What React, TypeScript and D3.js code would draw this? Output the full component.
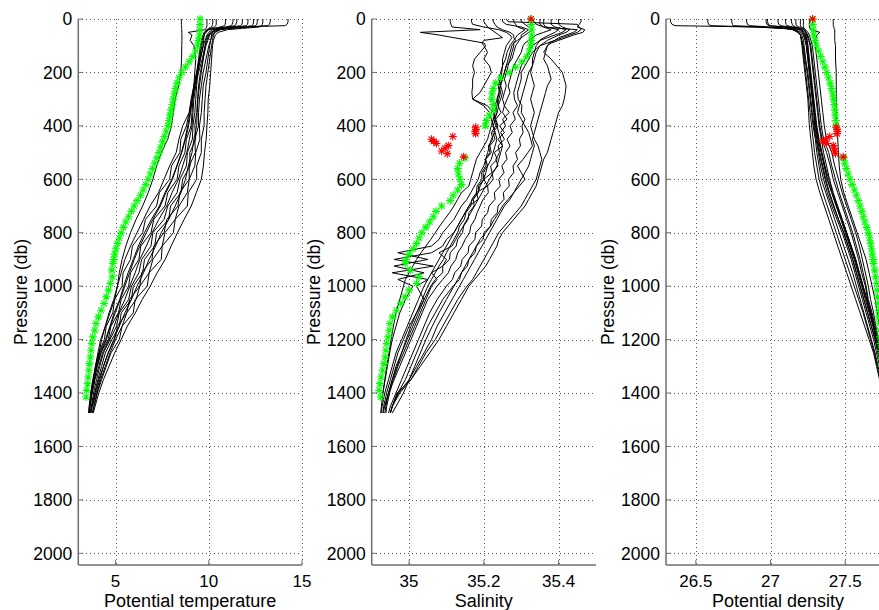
import React from 'react';
import * as d3 from 'd3';

// ---------- pressure grids ----------
const P_BLACK = [0,10,20,25,30,35,40,50,60,80,100,150,200,250,300,350,400,450,500,550,600,650,700,750,800,850,900,950,1000,1050,1100,1150,1200,1250,1300,1350,1400,1450,1475];
const P_SAL = [0,10,20,30,40,50,60,70,80,90,100,125,150,175,200,225,250,275,300,325,350,375,400,425,450,475,500,525,550,575,600,625,650,675,700,725,750,775,800,825,850,875,900,925,950,975,1000,1050,1100,1150,1200,1250,1300,1350,1400,1450,1475];
const P_GREEN = [0,20,40,60,80,100,120,140,160,180,200,220,240,260,280,300,320,340,360,380,400,420,440,460,480,500,520,540,560,580,600,620,640,660,680,700,720,740,760,780,800,820,840,860,880,900,915,940,965,990,1015,1040,1065,1090,1115,1140,1165,1190,1215,1240,1265,1290,1315,1340,1365,1390,1415];
const P_RED = [0,405,413,421,429,440,450,458,466,474,484,494,504,516];

// ---------- potential temperature (black profiles) ----------
const T_A = [8.52,8.53,8.53,8.54,8.54,8.55,8.55,8.55,8.56,8.56,8.55,8.54,8.5,8.38,8.2,8.1,8.0,7.8,7.45,7.2,7.0,6.75,6.45,6.1,5.8,5.55,5.35,5.2,5.1,4.95,4.7,4.45,4.2,4.05,3.92,3.82,3.72,3.64,3.6];
const T_B = [14.25,14.25,14.2,14.1,11.5,10.6,10.3,10.2,10.15,10.1,10.05,9.95,9.85,9.7,9.65,9.6,9.5,9.52,9.3,9.25,8.95,8.85,8.4,8.2,7.65,7.5,7.0,6.8,6.3,6.1,5.6,5.35,5.0,4.7,4.45,4.2,4.0,3.82,3.75];
const T_C = [12.9,12.9,12.88,12.85,12.7,11.8,11.0,10.5,10.35,10.25,10.2,10.15,10.1,10.05,9.97,9.95,9.9,9.86,9.77,9.71,9.6,9.33,9.06,8.68,8.32,7.98,7.66,7.23,6.86,6.43,6.06,5.63,5.3,4.95,4.65,4.35,4.1,3.9,3.8];
const T_D = [12.6,12.6,12.58,12.5,12.1,11.2,10.6,10.3,10.2,10.1,10.0,9.85,9.7,9.6,9.5,9.45,9.45,9.25,9.28,8.95,8.95,8.45,8.35,7.75,7.6,7.05,6.95,6.4,6.3,5.75,5.6,5.1,4.95,4.6,4.35,4.15,3.95,3.75,3.68];
const T_E = [12.4,12.4,12.38,12.3,11.9,11.0,10.5,10.2,10.05,9.95,9.85,9.7,9.55,9.45,9.4,9.35,9.25,9.3,8.98,9.0,8.6,8.5,7.95,7.85,7.2,7.1,6.55,6.45,5.95,5.85,5.3,5.2,4.8,4.45,4.25,4.05,3.88,3.72,3.65];
const T_F = [12.1,12.1,12.08,12.0,11.5,10.8,10.4,10.1,9.95,9.85,9.8,9.65,9.45,9.3,9.2,9.15,9.1,8.96,8.82,8.6,8.37,8.03,7.74,7.32,6.96,6.65,6.3,6.05,5.76,5.5,5.17,4.92,4.65,4.3,4.1,3.9,3.75,3.62,null];
const T_G = [11.5,11.5,11.45,11.4,11.0,10.5,10.2,10.0,9.9,9.8,9.7,9.55,9.4,9.25,9.15,9.1,9.05,8.8,8.72,8.4,8.3,7.8,7.65,7.05,6.9,6.35,6.25,5.8,5.7,5.3,5.15,4.75,4.6,4.2,4.0,3.85,3.7,3.6,3.56];
const T_H = [11.3,11.3,11.25,11.2,10.9,10.4,10.0,9.8,9.7,9.6,9.55,9.45,9.35,9.2,9.1,9.0,8.87,8.72,8.53,8.28,8.02,7.65,7.35,6.92,6.55,6.22,5.95,5.67,5.44,5.22,4.92,4.7,4.46,4.15,3.95,3.8,3.68,null,null];
const T_I = [10.4,10.4,10.4,10.38,10.3,10.1,9.9,9.75,9.7,9.65,9.6,9.5,9.35,9.2,9.05,8.95,8.8,8.5,8.45,8.0,7.9,7.35,7.2,6.6,6.45,5.9,5.8,5.4,5.35,4.95,4.85,4.5,4.4,4.1,3.92,3.78,3.66,3.58,3.55];
const T_J = [10.2,10.22,10.2,10.18,10.15,10.05,9.9,9.8,9.75,9.72,9.7,9.55,9.4,9.35,9.3,9.25,9.15,9.12,8.85,8.8,8.45,8.3,7.8,7.6,7.0,6.9,6.4,6.25,5.85,5.7,5.2,5.05,4.7,4.35,4.15,3.98,3.82,3.7,3.64];
const T_K = [13.3,13.3,13.25,13.2,12.0,11.0,10.6,10.35,10.25,10.2,10.15,10.05,9.95,9.85,9.8,9.75,9.75,9.6,9.6,9.35,9.35,8.9,8.85,8.2,8.1,7.5,7.45,6.8,6.7,6.05,5.95,5.35,5.2,4.75,4.5,4.25,4.02,3.85,3.78];
const T_L = [9.9,9.9,9.9,9.9,9.88,9.85,9.8,8.9,9.1,9.0,9.2,9.3,9.25,9.2,9.1,8.95,8.6,8.4,8.25,7.9,7.6,7.3,6.85,6.5,6.15,5.8,5.5,5.3,5.1,4.9,4.65,4.45,4.25,4.12,3.98,3.85,null,null,null];
const T_M = [11.8,11.8,11.78,11.7,11.2,10.7,10.35,10.15,10.0,9.9,9.8,9.7,9.6,9.5,9.42,9.38,9.35,9.2,9.1,8.9,8.75,8.5,8.2,7.85,7.45,7.15,6.8,6.5,6.15,5.85,5.5,5.2,4.9,4.6,4.35,4.1,3.9,3.75,null];
const T_N = [10.9,10.9,10.88,10.85,10.6,10.25,10.0,9.85,9.75,9.68,9.62,9.5,9.38,9.25,9.12,9.02,8.92,8.75,8.55,8.3,8.05,7.7,7.4,7.0,6.65,6.3,6.0,5.75,5.5,5.25,4.98,4.72,4.5,4.22,4.02,3.86,3.72,3.62,3.58];
const TEMP_PROFILES = [T_A,T_B,T_C,T_D,T_E,T_F,T_G,T_H,T_I,T_J,T_K,T_L,T_M,T_N];

// ---------- potential density (black profiles) ----------
const D_A = [27.42,27.42,27.42,27.42,27.425,27.425,27.43,27.43,27.43,27.43,27.435,27.435,27.44,27.44,27.44,27.44,27.445,27.45,27.455,27.46,27.47,27.49,27.52,27.55,27.58,27.61,27.64,27.66,27.68,27.7,27.715,27.73,27.745,27.755,27.765,27.775,27.785,27.79,27.795];
const D_B = [26.33,26.33,26.34,26.36,26.9,27.1,27.15,27.18,27.2,27.21,27.22,27.23,27.245,27.255,27.265,27.275,27.285,27.3,27.31,27.325,27.34,27.37,27.4,27.43,27.46,27.49,27.52,27.55,27.575,27.6,27.625,27.65,27.675,27.7,27.72,27.74,27.76,27.775,27.78];
const D_C = [26.74,26.74,26.745,26.75,26.95,27.1,27.16,27.19,27.2,27.205,27.21,27.22,27.23,27.24,27.25,27.255,27.26,27.27,27.28,27.29,27.305,27.33,27.36,27.39,27.42,27.45,27.48,27.51,27.54,27.57,27.6,27.63,27.66,27.69,27.71,27.73,27.75,27.77,27.775];
const D_D = [26.84,26.84,26.845,26.86,27.0,27.12,27.17,27.2,27.21,27.22,27.225,27.235,27.25,27.26,27.27,27.28,27.29,27.305,27.32,27.335,27.355,27.38,27.41,27.445,27.48,27.51,27.54,27.565,27.59,27.615,27.64,27.665,27.69,27.71,27.73,27.75,27.765,27.78,27.785];
const D_E = [26.97,26.97,26.975,26.99,27.08,27.15,27.19,27.21,27.22,27.23,27.24,27.25,27.26,27.27,27.28,27.29,27.3,27.315,27.33,27.35,27.37,27.395,27.425,27.455,27.49,27.52,27.55,27.575,27.6,27.625,27.65,27.675,27.7,27.72,27.74,27.755,27.77,27.785,27.79];
const D_F = [26.98,26.98,26.985,27.0,27.1,27.17,27.2,27.22,27.23,27.24,27.245,27.255,27.265,27.275,27.285,27.295,27.305,27.32,27.34,27.36,27.38,27.41,27.44,27.47,27.5,27.53,27.56,27.585,27.61,27.635,27.66,27.685,27.705,27.725,27.745,27.76,27.775,27.79,null];
const D_G = [27.1,27.1,27.105,27.11,27.15,27.19,27.21,27.225,27.235,27.245,27.25,27.26,27.27,27.28,27.29,27.3,27.31,27.325,27.345,27.365,27.39,27.415,27.445,27.48,27.51,27.54,27.57,27.595,27.62,27.645,27.67,27.69,27.71,27.73,27.75,27.765,27.78,27.79,27.795];
const D_H = [27.17,27.17,27.17,27.175,27.19,27.21,27.225,27.24,27.25,27.26,27.27,27.28,27.29,27.3,27.31,27.32,27.33,27.345,27.375,27.4,27.42,27.45,27.48,27.51,27.54,27.565,27.59,27.61,27.635,27.65,27.675,27.695,27.715,27.735,27.75,27.765,27.78,null,null];
const D_I = [27.2,27.2,27.2,27.2,27.205,27.22,27.235,27.25,27.26,27.27,27.28,27.29,27.3,27.31,27.32,27.33,27.34,27.355,27.39,27.41,27.435,27.46,27.49,27.52,27.55,27.575,27.6,27.62,27.64,27.655,27.68,27.7,27.72,27.74,27.755,27.77,27.785,27.795,27.8];
const D_J = [27.22,27.22,27.22,27.22,27.22,27.225,27.23,27.235,27.24,27.245,27.25,27.255,27.265,27.275,27.285,27.295,27.305,27.32,27.34,27.36,27.38,27.41,27.44,27.475,27.505,27.535,27.565,27.59,27.615,27.64,27.665,27.69,27.71,27.73,27.745,27.76,27.775,27.785,27.79];
const D_K = [26.58,26.58,26.585,26.6,26.9,27.08,27.15,27.19,27.2,27.21,27.215,27.225,27.235,27.245,27.255,27.265,27.275,27.285,27.295,27.31,27.325,27.35,27.38,27.41,27.44,27.47,27.5,27.53,27.56,27.59,27.62,27.645,27.67,27.695,27.715,27.735,27.755,27.77,27.775];
const D_L = [27.26,27.26,27.26,27.26,27.26,27.265,27.27,27.33,27.31,27.3,27.3,27.31,27.32,27.33,27.34,27.35,27.36,27.375,27.41,27.43,27.455,27.48,27.51,27.54,27.57,27.595,27.615,27.635,27.655,27.67,27.69,27.705,27.725,27.745,27.76,27.775,null,null,null];
const D_M = [27.05,27.05,27.055,27.07,27.13,27.18,27.2,27.215,27.225,27.235,27.24,27.25,27.26,27.27,27.28,27.29,27.295,27.31,27.325,27.345,27.365,27.39,27.42,27.455,27.49,27.52,27.55,27.575,27.6,27.625,27.65,27.675,27.7,27.72,27.74,27.755,27.77,27.78,null];
const D_N = [27.14,27.14,27.145,27.15,27.17,27.2,27.22,27.235,27.245,27.255,27.265,27.275,27.285,27.295,27.305,27.315,27.325,27.34,27.355,27.375,27.395,27.42,27.45,27.48,27.51,27.54,27.57,27.595,27.62,27.645,27.67,27.69,27.71,27.73,27.75,27.765,27.78,27.79,27.795];
const DENS_PROFILES = [D_A,D_B,D_C,D_D,D_E,D_F,D_G,D_H,D_I,D_J,D_K,D_L,D_M,D_N];

// ---------- salinity (black profiles) ----------
const S_1 = [35.11,35.11,35.112,35.115,35.19,35.03,35.08,35.12,35.16,35.2,35.205,35.19,35.175,35.17,35.175,35.17,35.17,35.168,35.17,35.2,35.215,35.22,35.225,35.23,35.235,35.23,35.225,35.22,35.21,35.205,35.2,35.19,35.185,35.17,35.16,35.15,35.14,35.13,35.12,35.11,35.1,35.09,35.08,35.07,35.06,35.05,35.04,35.025,35.01,34.995,34.98,34.965,34.955,34.945,34.935,34.928,34.925];
const S_2 = [35.167,35.167,35.17,35.2,35.24,35.26,35.27,35.275,35.27,35.265,35.26,35.255,35.25,35.25,35.245,35.24,35.245,35.24,35.235,35.24,35.235,35.23,35.225,35.23,35.22,35.215,35.21,35.205,35.2,35.19,35.185,35.175,35.165,35.155,35.14,35.13,35.12,35.105,35.09,35.08,35.06,34.97,35.05,34.96,35.04,34.97,35.01,34.99,34.975,34.965,34.955,34.948,34.942,34.936,34.93,34.926,34.924];
const S_3 = [35.225,35.225,35.23,35.235,35.25,35.27,35.28,35.28,35.285,35.28,35.28,35.275,35.27,35.265,35.26,35.255,35.26,35.255,35.25,35.255,35.25,35.262,35.242,35.255,35.238,35.25,35.228,35.236,35.218,35.222,35.2,35.21,35.18,35.185,35.16,35.15,35.14,35.13,35.12,35.1,35.09,35.06,34.96,35.065,34.955,35.05,35.02,35.04,35.02,35.0,34.985,34.97,34.96,34.95,34.94,34.932,34.93];
const S_4 = [35.46,35.46,35.455,35.45,35.47,35.465,35.44,35.42,35.4,35.38,35.37,35.36,35.38,35.395,35.41,35.415,35.42,35.418,35.415,35.41,35.4,35.395,35.39,35.385,35.38,35.375,35.37,35.36,35.355,35.35,35.345,35.34,35.33,35.32,35.31,35.295,35.28,35.265,35.25,35.24,35.235,35.225,35.215,35.205,35.19,35.175,35.16,35.14,35.12,35.1,35.08,35.055,35.03,35.005,34.975,34.955,34.95];
const S_5 = [35.35,35.35,35.35,35.36,35.45,35.44,35.42,35.4,35.39,35.375,35.37,35.365,35.36,35.37,35.375,35.38,35.37,35.365,35.36,35.355,35.35,35.345,35.34,35.335,35.33,35.335,35.33,35.325,35.32,35.31,35.3,35.29,35.28,35.27,35.255,35.245,35.235,35.225,35.215,35.205,35.195,35.185,35.175,35.165,35.155,35.145,35.135,35.115,35.095,35.075,35.06,35.04,35.02,35.0,34.972,34.955,34.95];
const S_6 = [35.33,35.335,35.34,35.36,35.38,35.36,35.34,35.33,35.32,35.31,35.305,35.3,35.29,35.28,35.275,35.27,35.265,35.27,35.262,35.255,35.268,35.25,35.258,35.245,35.255,35.238,35.242,35.232,35.238,35.222,35.225,35.21,35.212,35.198,35.19,35.182,35.176,35.165,35.162,35.15,35.142,35.13,35.125,35.112,35.105,35.09,35.075,35.05,35.035,35.02,35.005,34.99,34.975,34.96,34.945,34.935,34.93];
const S_7 = [35.38,35.38,35.38,35.39,35.42,35.41,35.39,35.37,35.35,35.34,35.33,35.32,35.31,35.3,35.295,35.29,35.285,35.28,35.282,35.29,35.278,35.284,35.27,35.276,35.262,35.27,35.258,35.262,35.248,35.254,35.24,35.244,35.228,35.23,35.214,35.21,35.196,35.194,35.178,35.176,35.16,35.158,35.142,35.138,35.122,35.116,35.1,35.075,35.055,35.04,35.025,35.01,34.995,34.98,34.965,34.95,34.945];
const S_8 = [35.25,35.25,35.26,35.3,35.32,35.31,35.3,35.3,35.295,35.29,35.285,35.28,35.275,35.26,35.255,35.25,35.245,35.25,35.245,35.238,35.246,35.232,35.238,35.224,35.23,35.216,35.22,35.205,35.21,35.198,35.2,35.186,35.185,35.172,35.174,35.16,35.158,35.146,35.143,35.13,35.126,35.11,35.108,35.09,35.09,35.07,35.058,35.04,35.025,35.01,34.995,34.98,34.965,34.955,34.945,34.935,null];
const S_9 = [35.3,35.3,35.31,35.32,35.33,35.32,35.31,35.3,35.29,35.28,35.275,35.27,35.265,35.26,35.255,35.25,35.24,35.245,35.24,35.235,35.23,35.225,35.22,35.215,35.21,35.2,35.19,35.18,35.175,35.17,35.165,35.16,35.14,35.13,35.12,35.108,35.095,35.082,35.07,35.058,35.045,35.032,35.02,35.01,35.0,34.99,34.985,34.975,34.965,34.958,34.952,34.946,34.94,34.935,34.93,null,null];
const S_10 = [35.26,35.265,35.45,35.455,35.46,35.45,35.43,35.41,35.39,35.37,35.35,35.33,35.32,35.31,35.3,35.3,35.295,35.29,35.292,35.302,35.3,35.31,35.302,35.305,35.295,35.298,35.285,35.29,35.278,35.28,35.266,35.268,35.252,35.254,35.238,35.236,35.22,35.218,35.2,35.198,35.18,35.176,35.16,35.156,35.14,35.135,35.118,35.09,35.07,35.05,35.035,35.02,35.005,34.99,34.97,34.955,34.95];
const S_11 = [35.2,35.2,35.205,35.21,35.22,35.23,35.24,35.25,35.2,35.195,35.2,35.21,35.2,35.215,35.22,35.21,35.2,35.19,35.17,35.21,35.225,35.23,35.235,35.24,35.245,35.25,35.245,35.24,35.235,35.225,35.215,35.205,35.195,35.185,35.175,35.165,35.155,35.145,35.135,35.125,35.115,35.08,35.1,35.09,35.06,35.075,35.06,35.045,35.03,35.015,35.0,34.985,34.97,34.958,34.948,34.94,34.938];
const S_12 = [35.36,35.36,35.36,35.365,35.4,35.39,35.375,35.36,35.35,35.345,35.34,35.335,35.33,35.33,35.325,35.33,35.335,35.33,35.325,35.33,35.335,35.33,35.325,35.33,35.335,35.345,35.35,35.355,35.35,35.345,35.34,35.33,35.32,35.31,35.3,35.285,35.27,35.255,35.24,35.23,35.22,35.21,35.2,35.19,35.18,35.17,35.155,35.13,35.11,35.09,35.07,35.045,35.025,35.005,34.968,34.955,null];
const S_13 = [35.28,35.28,35.285,35.29,35.31,35.3,35.29,35.285,35.28,35.275,35.27,35.262,35.258,35.25,35.248,35.244,35.238,35.242,35.236,35.23,35.236,35.226,35.232,35.22,35.224,35.212,35.216,35.204,35.206,35.194,35.195,35.182,35.18,35.168,35.165,35.152,35.148,35.135,35.13,35.12,35.11,35.1,35.092,35.08,35.07,35.06,35.05,35.035,35.02,35.005,34.992,34.98,34.968,34.955,34.945,34.938,34.935];
const S_14 = [35.4,35.4,35.4,35.41,35.43,35.42,35.4,35.385,35.37,35.36,35.35,35.34,35.335,35.33,35.32,35.315,35.31,35.305,35.3,35.295,35.29,35.3,35.31,35.32,35.325,35.33,35.318,35.305,35.29,35.3,35.31,35.295,35.28,35.265,35.25,35.24,35.228,35.218,35.205,35.19,35.18,35.17,35.16,35.15,35.14,35.13,35.12,35.1,35.08,35.062,35.045,35.03,35.015,35.0,34.985,34.965,34.955];
const SAL_PROFILES = [S_1,S_2,S_3,S_4,S_5,S_6,S_7,S_8,S_9,S_10,S_11,S_12,S_13,S_14];

// ---------- highlighted profile (green) and flagged points (red) ----------
const GREEN_T = [9.53,9.53,9.52,9.5,9.45,9.4,9.3,9.15,8.95,8.75,8.55,8.4,8.3,8.22,8.15,8.1,8.05,7.98,7.92,7.87,7.82,7.72,7.62,7.52,7.42,7.33,7.22,7.1,6.98,6.86,6.75,6.62,6.48,6.34,6.15,6.0,5.85,5.7,5.55,5.42,5.3,5.2,5.1,5.02,4.95,4.9,4.85,4.8,4.82,4.72,4.62,4.5,4.38,4.22,4.08,3.95,3.88,3.78,3.72,3.68,3.65,3.6,3.57,3.53,3.5,3.45,3.42];
const GREEN_S = [35.326,35.327,35.328,35.328,35.327,35.325,35.322,35.315,35.302,35.285,35.268,35.245,35.232,35.225,35.222,35.221,35.225,35.226,35.215,35.207,35.204,null,null,null,null,null,35.15,35.135,35.13,35.132,35.136,35.14,35.13,35.118,35.11,35.087,35.072,35.065,35.055,35.045,35.034,35.027,35.02,35.011,35.0,34.992,34.99,35.003,35.027,35.02,35.0,34.989,34.978,34.966,34.956,34.949,34.947,34.944,34.94,34.938,34.936,34.933,34.929,34.925,34.922,34.92,34.924];
const GREEN_D = [27.282,27.283,27.285,27.289,27.298,27.308,27.322,27.336,27.35,27.364,27.376,27.388,27.4,27.408,27.416,27.422,27.427,27.431,27.434,27.437,27.439,null,null,null,null,null,27.489,27.497,27.507,27.52,27.532,27.546,27.562,27.575,27.588,27.6,27.611,27.621,27.632,27.644,27.655,27.663,27.67,27.676,27.681,27.686,27.69,27.697,27.703,27.71,27.714,27.717,27.72,27.722,27.725,27.728,27.731,27.734,27.737,27.74,27.743,27.746,27.749,27.752,27.755,27.758,27.761];
const RED_S = [35.326,35.178,35.179,35.177,35.178,35.117,35.06,35.066,35.073,35.105,35.096,35.087,35.102,35.146];
const RED_D = [27.282,27.44,27.445,27.448,27.445,27.397,27.37,27.35,27.375,27.42,27.425,27.43,27.435,27.487];

// ---------- axes ----------
const Y_TICKS = [0,200,400,600,800,1000,1200,1400,1600,1800,2000];
const T_TICKS = [5,10,15];
const T_TICK_LABELS = ['5','10','15'];
const S_TICKS = [35,35.2,35.4];
const S_TICK_LABELS = ['35','35.2','35.4'];
const D_TICKS = [26.5,27,27.5];
const D_TICK_LABELS = ['26.5','27','27.5'];

const FONT = 'Liberation Sans, Arial, Helvetica, sans-serif';

function starPath(pts: [number, number][], r: number) {
  const k = r * 0.72;
  return pts.map(([x, y]) =>
    `M${x - r},${y}H${x + r}M${x},${y - r}V${y + r}M${x - k},${y - k}L${x + k},${y + k}M${x - k},${y + k}L${x + k},${y - k}`
  ).join('');
}

type PanelProps = {
  id: string;
  x0: number; x1: number;
  domain: [number, number];
  ticks: number[]; tickLabels: string[];
  label: string;
  pBlack: number[];
  black: (number | null)[][];
  green: (number | null)[];
  red?: (number | null)[];
};

function Panel(props: PanelProps) {
  const { id, x0, x1, domain, ticks, tickLabels, label, pBlack, black, green, red } = props;
  const x = d3.scaleLinear().domain(domain).range([x0, x1]);
  const y = d3.scaleLinear().domain([0, 2000]).range([19, 553.3]);
  const yTop = y(0);
  const yBot = 565;
  const line = d3.line<[number, number | null]>()
    .defined(d => d[1] != null)
    .x(d => x(d[1] as number))
    .y(d => y(d[0]));
  const greenPts: [number, number][] = [];
  P_GREEN.forEach((p, i) => { const v = green[i]; if (v != null) greenPts.push([x(v), y(p)]); });
  const redPts: [number, number][] = [];
  if (red) P_RED.forEach((p, i) => { const v = red[i]; if (v != null) redPts.push([x(v), y(p)]); });
  const axisColor = '#6e6e6e';
  return (
    <g>
      <defs>
        <clipPath id={id}>
          <rect x={x0} y={0} width={x1 - x0} height={yBot} />
        </clipPath>
      </defs>
      <g stroke="#555" strokeWidth={1} strokeDasharray="1,3" shapeRendering="crispEdges">
        {Y_TICKS.map(t => (
          <line key={'gy' + t} x1={x0} x2={x1} y1={Math.round(y(t)) + 0.5} y2={Math.round(y(t)) + 0.5} />
        ))}
        {ticks.map(t => (
          <line key={'gx' + t} x1={Math.round(x(t)) + 0.5} x2={Math.round(x(t)) + 0.5} y1={yTop} y2={yBot} />
        ))}
      </g>
      <g clipPath={`url(#${id})`}>
        {black.map((prof, i) => (
          <path key={'b' + i} d={line(pBlack.map((p, j) => [p, prof[j] ?? null] as [number, number | null])) || ''}
            fill="none" stroke="#000" strokeWidth={1} strokeLinejoin="round" />
        ))}
        <path d={starPath(greenPts, 4)} fill="none" stroke="#00ff00" strokeWidth={1.1} />
        {redPts.length > 0 && <path d={starPath(redPts, 4)} fill="none" stroke="#ff0000" strokeWidth={1.1} />}
      </g>
      <line x1={x0} x2={x0} y1={yTop} y2={yBot} stroke={axisColor} strokeWidth={1.5} />
      <line x1={x0} x2={x1} y1={yBot} y2={yBot} stroke={axisColor} strokeWidth={1.5} />
      {Y_TICKS.map(t => (
        <g key={'yt' + t}>
          <line x1={x0} x2={x0 + 5} y1={y(t)} y2={y(t)} stroke={axisColor} strokeWidth={1} />
          <text x={x0 - 6} y={y(t)} dy="0.36em" textAnchor="end" fontFamily={FONT} fontSize={17.5} fill="#000">{t}</text>
        </g>
      ))}
      {ticks.map((t, i) => (
        <g key={'xt' + t}>
          <line x1={x(t)} x2={x(t)} y1={yBot} y2={yBot - 5} stroke={axisColor} strokeWidth={1} />
          <text x={x(t)} y={586.5} textAnchor="middle" fontFamily={FONT} fontSize={17} fill="#000">{tickLabels[i]}</text>
        </g>
      ))}
      <text x={(x0 + x1) / 2} y={607} textAnchor="middle" fontFamily={FONT} fontSize={18} fill="#000">{label}</text>
      <text transform={`translate(${x0 - 58},${(yTop + yBot) / 2}) rotate(-90)`} dy="0.36em" textAnchor="middle"
        fontFamily={FONT} fontSize={17.5} fill="#000">Pressure (db)</text>
    </g>
  );
}

export default function App() {
  return (
    <div style={{ position: 'absolute', left: 0, top: 0 }}>
      <svg width={879} height={610} style={{ display: 'block', background: '#fff' }}>
        <Panel id="c1" x0={78.3} x1={302} domain={[3, 15]} ticks={T_TICKS} tickLabels={T_TICK_LABELS}
          label="Potential temperature" pBlack={P_BLACK} black={TEMP_PROFILES} green={GREEN_T} />
        <Panel id="c2" x0={371.7} x1={596} domain={[34.9, 35.5]} ticks={S_TICKS} tickLabels={S_TICK_LABELS}
          label="Salinity" pBlack={P_SAL} black={SAL_PROFILES} green={GREEN_S} red={RED_S} />
        <Panel id="c3" x0={666} x1={890} domain={[26.3, 27.8]} ticks={D_TICKS} tickLabels={D_TICK_LABELS}
          label="Potential density" pBlack={P_BLACK} black={DENS_PROFILES} green={GREEN_D} red={RED_D} />
      </svg>
    </div>
  );
}
